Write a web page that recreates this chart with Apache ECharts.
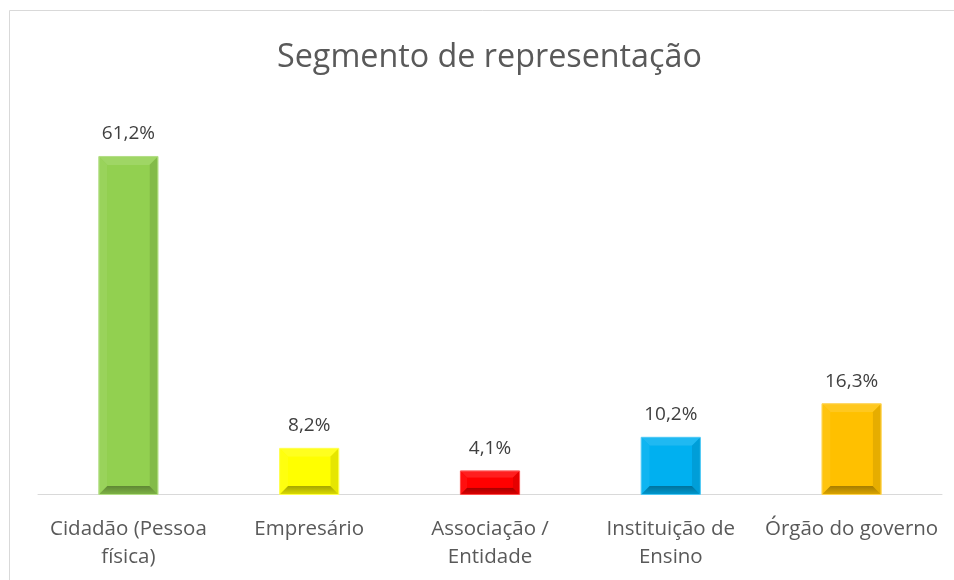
<!DOCTYPE html>
<html>
<head>
<meta charset="utf-8">
<script src="https://cdn.jsdelivr.net/npm/echarts@6/dist/echarts.min.js"></script>
<style>
  html, body { margin: 0; padding: 0; background: #fff; }
  #chart { width: 954px; height: 580px; }
</style>
</head>
<body>
<div id="chart"></div>
<script>
const categories = ['Cidadão (Pessoa\nfísica)', 'Empresário', 'Associação /\nEntidade', 'Instituição de\nEnsino', 'Órgão do governo']
const values = [61.2, 8.2, 4.1, 10.2, 16.3]
const barColors = ['#92D050', '#FFFF00', '#FF0000', '#00B0F0', '#FFC000']

function shade(hex, f) {
  // f > 0 lighten toward white, f < 0 darken toward black
  const n = parseInt(hex.slice(1), 16)
  let r = (n >> 16) & 255, g = (n >> 8) & 255, b = n & 255
  const t = f < 0 ? 0 : 255, p = Math.abs(f)
  r = Math.round(r + (t - r) * p)
  g = Math.round(g + (t - g) * p)
  b = Math.round(b + (t - b) * p)
  return 'rgb(' + r + ',' + g + ',' + b + ')'
}

const chart = echarts.init(document.getElementById('chart'))
const font = '"Open Sans", sans-serif'

const option = {
  animation: false,
  title: {
    text: 'Segmento de representação',
    left: 272,
    top: 37,
    textStyle: { fontFamily: font, fontSize: 32.3, fontWeight: 'normal', color: '#595959' }
  },
  graphic: [{
    type: 'rect',
    shape: { x: 9.5, y: 10.5, width: 960, height: 600 },
    style: { fill: 'none', stroke: '#d9d9d9', lineWidth: 1 },
    silent: true
  }],
  grid: { left: 38, right: 12, top: 108.5, bottom: 86 },
  xAxis: {
    type: 'category',
    data: categories,
    axisLine: { lineStyle: { color: '#d9d9d9', width: 1 } },
    axisTick: { show: false },
    axisLabel: { fontFamily: font, fontSize: 20.5, color: '#595959', margin: 21, lineHeight: 28, interval: 0 }
  },
  yAxis: {
    type: 'value',
    min: 0,
    max: 70,
    show: false,
    splitLine: { show: false }
  },
  series: [{
    type: 'custom',
    data: values.map((v, i) => [i, v]),
    renderItem: function (params, api) {
      const idx = api.value(0)
      const top = api.coord([idx, api.value(1)])
      const base = api.coord([idx, 0])
      const w = api.size([1, 0])[0] * 0.322
      const x = top[0] - w / 2, y = top[1], h = base[1] - top[1]
      const c = barColors[idx]
      const b = Math.min(8, h * 0.28)
      return {
        type: 'group',
        children: [
          { type: 'rect', shape: { x: x, y: y, width: w, height: h }, style: { fill: c, stroke: shade(c, 0.25), lineWidth: 1 } },
          { type: 'polygon', shape: { points: [[x, y], [x + w, y], [x + w - b, y + b], [x + b, y + b]] }, style: { fill: shade(c, 0.12) } },
          { type: 'polygon', shape: { points: [[x, y], [x + b, y + b], [x + b, y + h - b], [x, y + h]] }, style: { fill: shade(c, 0.06) } },
          { type: 'polygon', shape: { points: [[x + w, y], [x + w, y + h], [x + w - b, y + h - b], [x + w - b, y + b]] }, style: { fill: shade(c, -0.1) } },
          {
            type: 'polygon',
            shape: { points: [[x, y + h], [x + b, y + h - b], [x + w - b, y + h - b], [x + w, y + h]] },
            style: {
              fill: new echarts.graphic.LinearGradient(0, 0, 0, 1, [
                { offset: 0, color: shade(c, -0.35) },
                { offset: 1, color: shade(c, -0.15) }
              ])
            }
          },
          { type: 'rect', shape: { x: x + b, y: y + b, width: w - 2 * b, height: h - 2 * b }, style: { fill: c } },
          { type: 'rect', shape: { x: x - 0.5, y: y - 0.5, width: w + 1, height: h + 1 }, style: { fill: 'none', stroke: shade(c, 0.3), lineWidth: 1 } },
          {
            type: 'text',
            style: {
              x: top[0], y: y - 23,
              text: api.value(1).toFixed(1).replace('.', ',') + '%',
              fontFamily: font, fontSize: 19, fill: '#404040',
              align: 'center', verticalAlign: 'middle'
            }
          }
        ]
      }
    }
  }]
}

chart.setOption(option)
window.addEventListener('resize', function () {
  chart.resize()
})
</script>
</body>
</html>
